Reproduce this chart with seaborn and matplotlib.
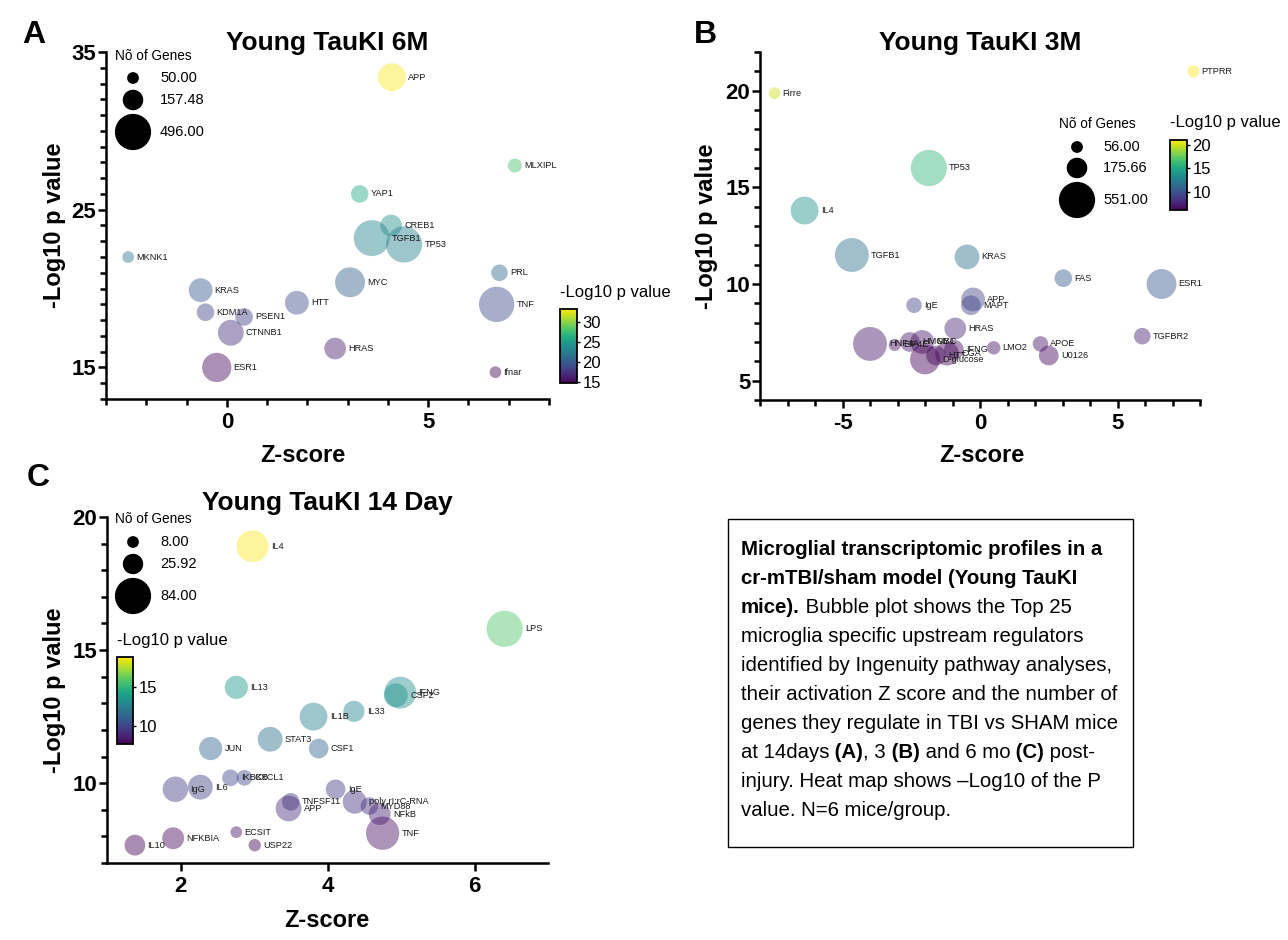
import numpy as np
import pandas as pd
import matplotlib
matplotlib.use("Agg")
import matplotlib as mpl
import matplotlib.pyplot as plt
import seaborn as sns
from matplotlib.ticker import MultipleLocator, FixedLocator

# ---------------- data ----------------
# Panel A: Young TauKI 6M
genes_A = ["APP", "MLXIPL", "YAP1", "CREB1", "TGFB1", "TP53", "MKNK1", "KRAS", "HTT",
           "MYC", "PRL", "TNF", "KDM1A", "PSEN1", "CTNNB1", "ESR1", "HRAS", "Ifnar"]
z_A = [4.1, 7.15, 3.3, 4.08, 3.6, 4.4, -2.45, -0.65, 1.74,
       3.06, 6.77, 6.7, -0.53, 0.43, 0.1, -0.25, 2.69, 6.67]
logp_A = [33.4, 27.8, 26.0, 24.0, 23.2, 22.8, 22.0, 19.9, 19.1,
          20.4, 21.0, 19.0, 18.5, 18.2, 17.2, 15.0, 16.2, 14.7]
n_A = [292, 72, 115, 176, 489, 496, 50, 212, 212,
       337, 102, 472, 115, 115, 251, 323, 176, 50]
legend_n_A = [50.00, 157.48, 496.00]
cbar_ticks_A = [15, 20, 25, 30]

# Panel B: Young TauKI 3M
genes_B = ["Firre", "PTPRR", "TP53", "IL4", "TGFB1", "KRAS", "FAS", "ESR1", "IgE", "APP",
           "MAPT", "HRAS", "TGFBR2", "LMO2", "APOE", "U0126", "HNF4A", "EIF4E", "HMGB1",
           "MYC", "D-glucose", "HTT", "CGA", "IFNG"]
z_B = [-7.47, 7.76, -1.86, -6.38, -4.66, -0.47, 3.03, 6.6, -2.4, -0.25,
       -0.33, -0.9, 5.9, 0.5, 2.2, 2.5, -4.0, -3.1, -2.55,
       -2.1, -2.0, -1.6, -1.2, -0.95]
logp_B = [19.87, 21.0, 16.0, 13.8, 11.5, 11.4, 10.3, 10.0, 8.9, 9.2,
          8.9, 7.7, 7.3, 6.7, 6.9, 6.3, 6.9, 6.85, 7.0,
          7.0, 6.1, 6.3, 6.4, 6.6]
n_B = [56, 60, 551, 325, 483, 257, 129, 374, 99, 236,
       161, 196, 114, 73, 99, 161, 483, 60, 161,
       236, 374, 161, 236, 161]
legend_n_B = [56.00, 175.66, 551.00]
cbar_ticks_B = [10, 15, 20]

# Panel C: Young TauKI 14 Day
genes_C = ["IL4", "LPS", "IL13", "IFNG", "CSF2", "IL1B", "IL33", "STAT3", "CSF1", "JUN",
           "IKBKB", "CXCL1", "IgG", "IL6", "TNFSF11", "APP", "IgE", "poly rI:rC-RNA",
           "MYD88", "NFkB", "TNF", "ECSIT", "USP22", "NFKBIA", "IL10"]
z_C = [2.98, 6.41, 2.76, 4.99, 4.93, 3.81, 4.36, 3.22, 3.88, 2.41,
       2.68, 2.87, 1.93, 2.27, 3.5, 3.47, 4.11, 4.37,
       4.57, 4.71, 4.75, 2.76, 3.01, 1.9, 1.38]
logp_C = [18.9, 15.8, 13.6, 13.4, 13.3, 12.5, 12.7, 11.65, 11.3, 11.3,
          10.2, 10.2, 9.77, 9.85, 9.3, 9.05, 9.77, 9.3,
          9.14, 8.84, 8.12, 8.16, 7.67, 7.93, 7.67]
n_C = [65, 84, 34, 65, 36, 49, 28, 39, 24, 34,
       17, 15, 41, 39, 19, 42, 24, 36,
       19, 30, 71, 8, 9, 30, 27]
legend_n_C = [8.00, 25.92, 84.00]
cbar_ticks_C = [10, 15]

caption_lines = [
    [("Microglial transcriptomic profiles in a", "bold")],
    [("cr-mTBI/sham model (Young TauKI", "bold")],
    [("mice).", "bold"), (" Bubble plot shows the Top 25", "normal")],
    [("microglia specific upstream regulators", "normal")],
    [("identified by Ingenuity pathway analyses,", "normal")],
    [("their activation Z score and the number of", "normal")],
    [("genes they regulate in TBI vs SHAM mice", "normal")],
    [("at 14days", "normal"), (" (A)", "bold"), (", 3", "normal"), (" (B)", "bold"),
     (" and 6 mo", "normal"), (" (C)", "bold"), (" post-", "normal")],
    [("injury. Heat map shows \u2013Log10 of the P", "normal")],
    [("value. N=6 mice/group.", "normal")],
]

# ---------------- style ----------------
sns.set_style("ticks")
plt.rcParams['font.family'] = ['Liberation Sans', 'DejaVu Sans']
plt.rcParams['text.color'] = 'black'
plt.rcParams['axes.labelcolor'] = 'black'
plt.rcParams['xtick.color'] = 'black'
plt.rcParams['ytick.color'] = 'black'
plt.rcParams['axes.edgecolor'] = 'black'
plt.rcParams['axes.unicode_minus'] = False

W, H = 1288, 940
fig = plt.figure(figsize=(W / 100, H / 100), dpi=100)


def frac(x0, y0, x1, y1):
    return [x0 / W, 1 - y1 / H, (x1 - x0) / W, (y1 - y0) / H]


SMIN, SMAX = 72, 680


def size_of(n, nmin, nmax):
    return SMIN + (np.asarray(n, float) - nmin) / (nmax - nmin) * (SMAX - SMIN)


def bubble_panel(ax, genes, z, p, n, nlegend):
    nmin, nmax = nlegend[0], nlegend[-1]
    df = pd.DataFrame(dict(gene=genes, z=z, p=p, n=n))
    pmin, pmax = min(p), max(p)
    sns.scatterplot(data=df, x="z", y="p", size="n", sizes=(SMIN, SMAX),
                    size_norm=(nmin, nmax), hue="p", hue_norm=(pmin, pmax),
                    palette="viridis", alpha=0.45, linewidth=0, legend=False,
                    ax=ax, clip_on=False, zorder=3)
    s = size_of(n, nmin, nmax)
    for g, xi, yi, si in zip(genes, z, p, s):
        r = np.sqrt(si) / 2
        ax.annotate(g, (xi, yi), xytext=(r + 1.6, 0), textcoords="offset points",
                    va="center", ha="left", fontsize=6.6, color="#1a1a1a", zorder=4)
    return pmin, pmax


def style_ax(ax, xlim, ylim, xmaj, xminor, ymaj, yminor):
    ax.set_xlim(*xlim)
    ax.set_ylim(*ylim)
    ax.xaxis.set_major_locator(FixedLocator(xmaj))
    if xminor:
        ax.xaxis.set_minor_locator(MultipleLocator(xminor))
    ax.yaxis.set_major_locator(FixedLocator(ymaj))
    ax.yaxis.set_minor_locator(MultipleLocator(yminor))
    for sp in ["top", "right"]:
        ax.spines[sp].set_visible(False)
    for sp in ["left", "bottom"]:
        ax.spines[sp].set_linewidth(1.8)
        ax.spines[sp].set_color("black")
        ax.spines[sp].set_capstyle("projecting")
    ax.tick_params(which="major", length=5.5, width=1.8, labelsize=16,
                   color="black", labelcolor="black")
    ax.tick_params(which="minor", length=4.5, width=1.8, color="black")
    ax.tick_params(axis="y", which="major", pad=1.5)
    ax.tick_params(axis="x", which="major", pad=4)
    for lab in ax.get_xticklabels() + ax.get_yticklabels():
        lab.set_fontweight("bold")
    ax.set_xlabel("")
    ax.set_ylabel("")
    ax.patch.set_alpha(0)


def add_cbar(rect, pmin, pmax, ticks):
    cax = fig.add_axes(frac(*rect))
    sm = mpl.cm.ScalarMappable(norm=mpl.colors.Normalize(pmin, pmax), cmap="viridis")
    cb = fig.colorbar(sm, cax=cax, ticks=ticks)
    cb.outline.set_linewidth(1.3)
    cb.outline.set_edgecolor("black")
    cax.tick_params(labelsize=12, length=4, width=1.0, direction="inout", pad=2,
                    color="black", labelcolor="black")
    return cb


# ---------------- panels ----------------
axA = fig.add_axes(frac(106, 52, 549, 399))
pA = bubble_panel(axA, genes_A, z_A, logp_A, n_A, legend_n_A)
style_ax(axA, (-3, 8), (13, 35), [0, 5], 1, [15, 25, 35], 1)

axB = fig.add_axes(frac(760, 52, 1200, 400))
pB = bubble_panel(axB, genes_B, z_B, logp_B, n_B, legend_n_B)
style_ax(axB, (-8, 8), (4, 22), [-5, 0, 5], 1, [5, 10, 15, 20], 1)

axC = fig.add_axes(frac(107, 517, 548, 863))
pC = bubble_panel(axC, genes_C, z_C, logp_C, n_C, legend_n_C)
style_ax(axC, (1, 7), (7, 20), [2, 4, 6], None, [10, 15, 20], 1)

add_cbar((560, 309, 577, 383), pA[0], pA[1], cbar_ticks_A)
add_cbar((1170, 140, 1187, 210), pB[0], pB[1], cbar_ticks_B)
add_cbar((117, 657, 133, 744), pC[0], pC[1], cbar_ticks_C)

# ---------------- overlay: text, legends, caption box ----------------
ov = fig.add_axes([0, 0, 1, 1], zorder=10)
ov.set_xlim(0, W)
ov.set_ylim(H, 0)
ov.axis("off")
ov.patch.set_alpha(0)

# panel letters
for letter, x, y in [("A", 22, 43), ("B", 694, 43), ("C", 27, 486)]:
    ov.text(x, y, letter, fontsize=23, fontweight="bold", ha="left", va="baseline")

# titles
for t, x, y in [("Young TauKI 6M", 327, 50), ("Young TauKI 3M", 980, 50),
                ("Young TauKI 14 Day", 327, 510)]:
    ov.text(x, y, t, fontsize=19, fontweight="bold", ha="center", va="baseline")

# axis labels
for x, y in [(303, 462), (982, 462), (327, 927)]:
    ov.text(x, y, "Z-score", fontsize=17, fontweight="bold", ha="center", va="baseline")
for x, y in [(55, 225), (707, 226), (55, 690)]:
    ov.text(x, y, "-Log10 p value", fontsize=17, fontweight="bold", ha="center",
            va="center", rotation=90)

# colorbar titles
for x, y in [(560, 293), (1170, 122), (117, 640)]:
    ov.text(x, y, "-Log10 p value", fontsize=12, ha="left", va="center")

# size legends
for nleg, tx, ty, cx, lx, ys in [
        (legend_n_A, 115, 56, 133, 160, [78, 100, 132]),
        (legend_n_B, 1059, 124, 1077, 1103, [147, 168, 200]),
        (legend_n_C, 115, 519, 133, 160, [542, 564, 596])]:
    ov.text(tx, ty, "N\u00f5 of Genes", fontsize=9.8, ha="left", va="center")
    ss = size_of(nleg, nleg[0], nleg[-1])
    ov.scatter([cx] * 3, ys, s=ss, c="black", linewidths=0)
    for v, yy in zip(nleg, ys):
        ov.text(lx, yy, f"{v:.2f}", fontsize=10.5, ha="left", va="center")

# caption box
ov.add_patch(mpl.patches.Rectangle((728, 519), 1133 - 728, 847 - 519, fill=False,
                                   edgecolor="black", linewidth=1.0))
renderer = fig.canvas.get_renderer()
base_y = 555
for i, segs in enumerate(caption_lines):
    x = 741
    y = base_y + i * 29
    for txt, wt in segs:
        t = ov.text(x, y, txt, fontsize=14.7, fontweight=wt, ha="left", va="baseline")
        bb = t.get_window_extent(renderer=renderer)
        x += bb.width

fig.savefig("out.png", dpi=100)
